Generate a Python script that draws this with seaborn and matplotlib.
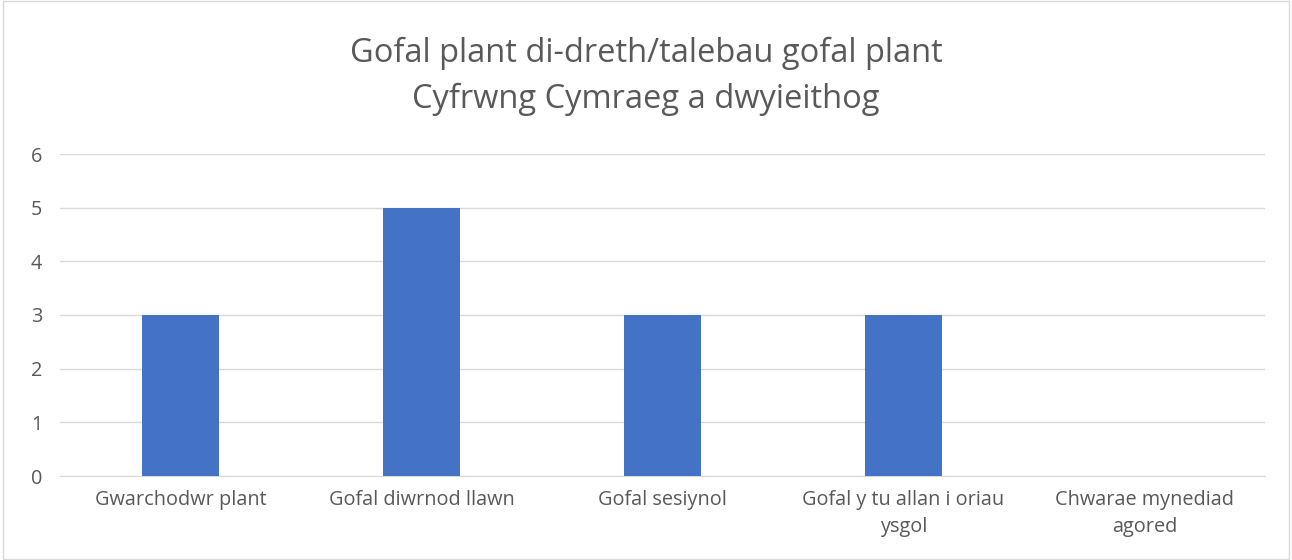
import pandas as pd
import seaborn as sns
import matplotlib.pyplot as plt

# data
categories = ['Gwarchodwr plant', 'Gofal diwrnod llawn', 'Gofal sesiynol',
              'Gofal y tu allan i oriau\nysgol', 'Chwarae mynediad\nagored']
values = [3, 5, 3, 3, 0]
title = 'Gofal plant di-dreth/talebau gofal plant\nCyfrwng Cymraeg a dwyieithog'

df = pd.DataFrame({'cat': categories, 'val': values})

sns.set_style('white')
plt.rcParams['font.family'] = ['Open Sans', 'DejaVu Sans']
text_col = '#595959'

fig = plt.figure(figsize=(12.92, 5.6), dpi=100)
ax = fig.add_axes([60 / 1292, 1 - 476 / 560, 1205 / 1292, 322 / 560])

sns.barplot(data=df, x='cat', y='val', color='#4472C4', width=0.32,
            saturation=1, linewidth=0, ax=ax, zorder=3)

ax.set_ylim(0, 6)
ax.set_xlim(-0.5, 4.5)
ax.set_yticks(range(0, 7))
ax.yaxis.grid(True, color='#D9D9D9', linewidth=1, zorder=0)
ax.set_axisbelow(True)
for s in ['top', 'right', 'left']:
    ax.spines[s].set_visible(False)
ax.spines['bottom'].set_color('#D9D9D9')
ax.tick_params(axis='both', length=0, colors=text_col, labelsize=14.3)
ax.tick_params(axis='x', pad=10)
ax.tick_params(axis='y', pad=21)
for lab in ax.get_yticklabels():
    lab.set_horizontalalignment('left')
for lab in ax.get_xticklabels():
    lab.set_linespacing(1.5)
ax.set_xlabel('')
ax.set_ylabel('')

fig.text(0.5, 1 - 76 / 560, title, ha='center', va='center',
         fontsize=23.5, color=text_col, linespacing=1.5)

# thin frame around the chart area
fig.patches.append(plt.Rectangle((0.002, 0.002), 0.996, 0.996, transform=fig.transFigure,
                                 fill=False, edgecolor='#D9D9D9', linewidth=1))

fig.savefig('out.png', dpi=100, facecolor='white')
